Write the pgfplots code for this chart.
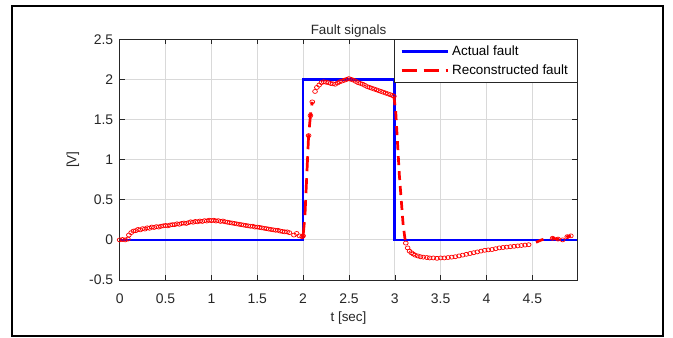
\documentclass[border=0pt]{standalone}
\usepackage{fontspec}
\setmainfont{Liberation Sans}
\usepackage{pgfplots}
\pgfplotsset{compat=1.18}
\usepackage{pgfplotstable}

\pgfplotstableread{
t y
0 0
2 0
2 2
3 2
3 0
4.99 0
}\actual

\pgfplotstableread{
t y
0.000 0.00
0.030 0.005
0.060 0.00
0.090 0.01
0.100 0.06
0.125 0.09
0.150 0.11
0.175 0.115
0.200 0.13
0.225 0.125
0.250 0.14
0.275 0.135
0.300 0.15
0.325 0.145
0.350 0.16
0.375 0.155
0.400 0.165
0.425 0.16
0.450 0.17
0.475 0.175
0.500 0.18
0.525 0.175
0.550 0.185
0.575 0.19
0.600 0.19
0.625 0.20
0.650 0.195
0.675 0.205
0.700 0.21
0.725 0.205
0.750 0.215
0.775 0.225
0.800 0.22
0.825 0.23
0.850 0.225
0.875 0.235
0.900 0.23
0.925 0.24
0.950 0.235
0.975 0.245
1.000 0.24
1.025 0.245
1.050 0.235
1.075 0.24
1.100 0.23
1.125 0.235
1.150 0.225
1.175 0.22
1.200 0.215
1.225 0.21
1.250 0.205
1.275 0.20
1.300 0.195
1.325 0.19
1.350 0.185
1.375 0.18
1.400 0.175
1.425 0.17
1.450 0.17
1.475 0.16
1.500 0.16
1.525 0.155
1.550 0.15
1.575 0.145
1.600 0.14
1.625 0.135
1.650 0.13
1.675 0.125
1.700 0.12
1.725 0.12
1.750 0.11
1.775 0.105
1.800 0.10
1.825 0.10
1.850 0.09
1.900 0.06
1.930 0.08
1.960 0.05
1.990 0.04
2.000 0.05
2.020 0.30
2.040 0.80
2.060 1.30
2.080 1.55
2.100 1.72
2.130 1.85
2.150 1.90
2.175 1.93
2.200 1.96
2.225 1.97
2.250 1.965
2.275 1.96
2.300 1.95
2.325 1.945
2.350 1.94
2.375 1.955
2.400 1.97
2.425 1.98
2.450 1.99
2.475 2.00
2.500 2.01
2.525 2.00
2.550 1.99
2.575 1.975
2.600 1.96
2.625 1.95
2.650 1.94
2.675 1.925
2.700 1.91
2.725 1.90
2.750 1.89
2.775 1.88
2.800 1.87
2.825 1.86
2.850 1.85
2.875 1.84
2.900 1.83
2.925 1.82
2.950 1.81
2.975 1.80
2.990 1.79
3.010 1.60
3.030 1.20
3.050 0.80
3.070 0.50
3.090 0.20
3.110 0.02
3.120 -0.04
3.140 -0.10
3.160 -0.14
3.180 -0.16
3.200 -0.175
3.220 -0.19
3.250 -0.20
3.280 -0.21
3.310 -0.215
3.350 -0.22
3.380 -0.225
3.420 -0.225
3.460 -0.23
3.500 -0.225
3.540 -0.225
3.580 -0.22
3.620 -0.215
3.660 -0.21
3.700 -0.20
3.740 -0.19
3.780 -0.18
3.820 -0.17
3.860 -0.16
3.900 -0.15
3.940 -0.14
3.980 -0.13
4.020 -0.125
4.060 -0.12
4.100 -0.11
4.140 -0.10
4.180 -0.095
4.220 -0.09
4.260 -0.085
4.300 -0.08
4.340 -0.075
4.380 -0.07
4.420 -0.065
4.460 -0.06
4.540 -0.03
4.600 0.00
4.660 0.02
4.720 0.02
4.780 0.01
4.830 0.00
4.880 0.04
4.920 0.05
}\recon

\definecolor{mblue}{rgb}{0,0,1}
\definecolor{mred}{rgb}{1,0,0}
\definecolor{axgray}{rgb}{0.15,0.15,0.15}

\begin{document}
\begin{tikzpicture}
\begin{axis}[
  scale only axis,
  width=457.6bp, height=240.7bp,
  xmin=0, xmax=4.99, ymin=-0.5, ymax=2.5,
  xtick={0,0.5,1,1.5,2,2.5,3,3.5,4,4.5},
  ytick={-0.5,0,0.5,1,1.5,2,2.5},
  xticklabels={0,0.5,1,1.5,2,2.5,3,3.5,4,4.5},
  yticklabels={-0.5,0,0.5,1,1.5,2,2.5},
  grid=major,
  major grid style={black!15, line width=0.8bp},
  tick align=inside, tick pos=both,
  major tick length=5bp,
  tick style={axgray, line width=0.6bp},
  axis line style={axgray, line width=0.7bp},
  tick label style={font=\fontsize{14}{16}\selectfont, text=axgray},
  xticklabel style={yshift=-10bp},
  yticklabel style={xshift=-3bp},
  title={Fault signals},
  title style={font=\fontsize{13.5}{16}\selectfont, text=axgray, at={(0.5,1)}, anchor=south, yshift=-7bp},
  xlabel={t [sec]},
  ylabel={[V]},
  xlabel style={font=\fontsize{13.5}{15}\selectfont, text=axgray, at={(axis description cs:0.5,0)}, anchor=center, yshift=-38bp},
  ylabel style={font=\fontsize{13.5}{15}\selectfont, text=axgray, at={(axis description cs:-0.102,0.5)}, anchor=center},
  legend cell align=left,
  legend style={at={(1,1)}, anchor=north east, draw=axgray, line width=0.7bp,
    font=\fontsize{13.5}{16}\selectfont, text=black, inner xsep=6bp, inner ysep=3bp,
    nodes={inner sep=3bp}, row sep=2bp},
  legend image code/.code={\draw[#1] (0bp,0bp) -- (46bp,0bp);},
]
\addplot[mblue, line width=2.7bp] table[x=t,y=y]{\actual};
\addlegendentry{Actual fault}
\addplot[mred, line width=2.7bp, dash pattern=on 15bp off 7bp, restrict x to domain=1.99:2.10] table[x=t,y=y]{\recon};
\addlegendentry{Reconstructed fault}
\addplot[mred, line width=2.7bp, dash pattern=on 9bp off 6bp, restrict x to domain=2.99:3.12, forget plot] table[x=t,y=y]{\recon};
\addplot[mred, line width=2.7bp, dash pattern=on 8bp off 8bp, restrict x to domain=4.50:4.92, forget plot] table[x=t,y=y]{\recon};
\addplot[mred, only marks, mark=o, mark size=2bp, mark options={xscale=1.2, line width=0.7bp}, restrict x to domain=0:2.00, forget plot] table[x=t,y=y]{\recon};
\addplot[mred, only marks, mark=o, mark size=2bp, mark options={xscale=1.2, line width=0.7bp}, restrict x to domain=2.06:2.99, forget plot] table[x=t,y=y]{\recon};
\addplot[mred, only marks, mark=o, mark size=2bp, mark options={xscale=1.2, line width=0.7bp}, restrict x to domain=3.12:4.46, forget plot] table[x=t,y=y]{\recon};
\addplot[mred, only marks, mark=o, mark size=2bp, mark options={xscale=1.2, line width=0.7bp}, restrict x to domain=4.70:4.92, forget plot] table[x=t,y=y]{\recon};
\end{axis}
\draw[black, line width=1.6bp] (-107.7bp,-56bp) rectangle (543.3bp,274bp);
\path[use as bounding box] (-119.7bp,-58bp) rectangle (553.3bp,280bp);
\end{tikzpicture}
\end{document}
